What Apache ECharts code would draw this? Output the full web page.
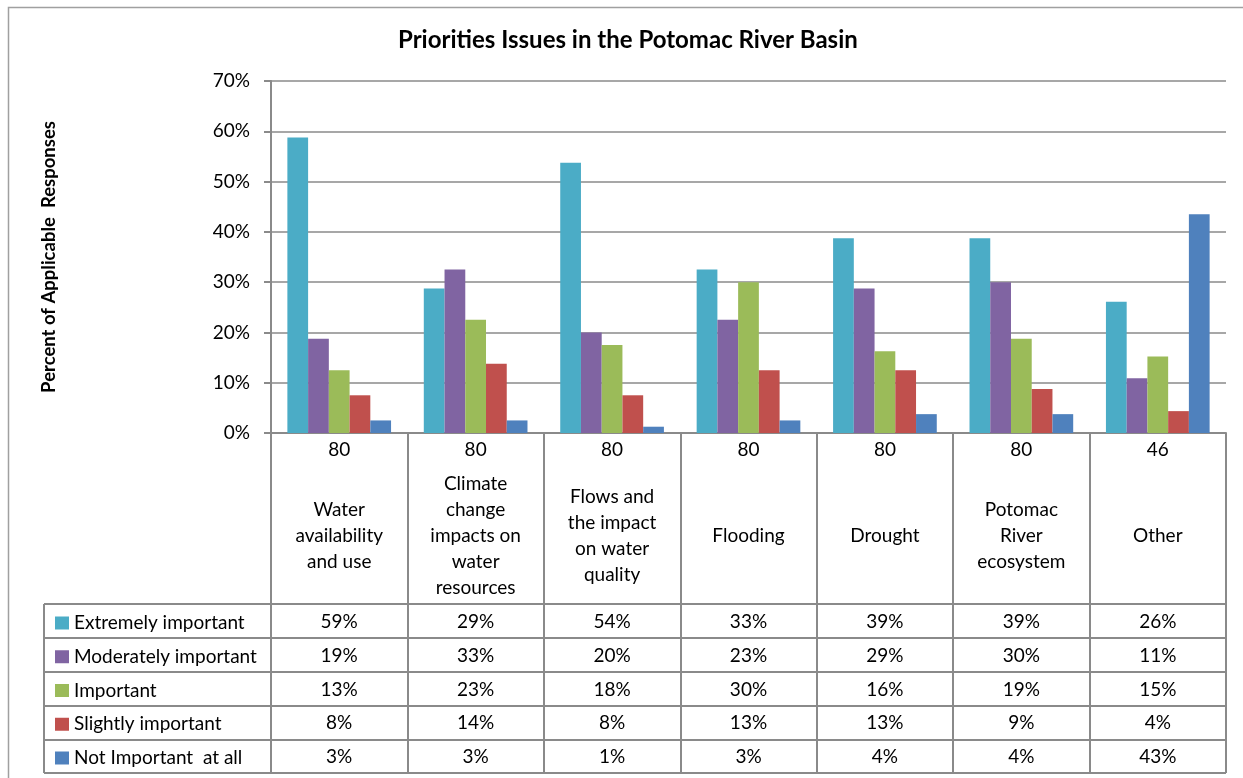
<!DOCTYPE html>
<html>
<head>
<meta charset="utf-8">
<script src="https://cdn.jsdelivr.net/npm/echarts@6/dist/echarts.min.js"></script>
<style>html,body{margin:0;padding:0;background:#fff}#chart{width:1243px;height:778px}</style>
</head>
<body>
<div id="chart"></div>
<script>
const categories = ["Water\navailability\nand use", "Climate\nchange\nimpacts on\nwater\nresources", "Flows and\nthe impact\non water\nquality", "Flooding", "Drought", "Potomac\nRiver\necosystem", "Other"];
const counts = [80, 80, 80, 80, 80, 80, 46];
const seriesNames = ["Extremely important", "Moderately important", "Important", "Slightly important", "Not Important  at all"];
const extremely = [58.75, 28.75, 53.75, 32.5, 38.75, 38.75, 26.09];
const moderately = [18.75, 32.5, 20.0, 22.5, 28.75, 30.0, 10.87];
const important = [12.5, 22.5, 17.5, 30.0, 16.25, 18.75, 15.22];
const slightly = [7.5, 13.75, 7.5, 12.5, 12.5, 8.75, 4.35];
const notImportant = [2.5, 2.5, 1.25, 2.5, 3.75, 3.75, 43.48];
const yTicks = [0, 10, 20, 30, 40, 50, 60, 70];

const values = [extremely, moderately, important, slightly, notImportant];
const colors = ["#4BACC6", "#8064A2", "#9BBB59", "#C0504D", "#4F81BD"];
const FONT = "Lato";
const LINE = "#8a8a8a";
const TFS = 19;

const chart = echarts.init(document.getElementById('chart'));
const axisBase = { gridIndex: 0, type: 'category', position: 'bottom',
  axisLine: { show: false }, axisTick: { show: false } };
const rowCenters = [621, 655, 689, 722, 756];
const zeroY = 433;

const xAxes = [
  { type: 'category', data: categories, position: 'bottom',
    axisLine: { show: true, lineStyle: { color: LINE, width: 2 } },
    axisTick: { show: true, length: 340, lineStyle: { color: LINE, width: 2 } },
    axisLabel: { interval: 0, margin: 536 - zeroY, verticalAlign: 'middle', lineHeight: 26,
      fontFamily: FONT, fontSize: TFS, color: '#000' } },
  Object.assign({}, axisBase, { data: counts.map(String),
    axisLabel: { interval: 0, margin: 450 - zeroY, verticalAlign: 'middle', fontFamily: FONT, fontSize: TFS, color: '#000' } })
];
values.forEach((arr, i) => {
  xAxes.push(Object.assign({}, axisBase, { data: arr.map(v => Math.round(v) + '%'),
    axisLabel: { interval: 0, margin: rowCenters[i] + 1 - zeroY, verticalAlign: 'middle', fontFamily: FONT, fontSize: TFS, color: '#000' } }));
});

const hLines = [604, 638, 672, 706, 740, 773].map(y => ({
  type: 'line', shape: { x1: 44, y1: y, x2: 1226, y2: y }, style: { stroke: LINE, lineWidth: 2 } }));

chart.setOption({
  animation: false,
  title: { text: 'Priorities Issues in the Potomac River Basin', left: 393, top: 23,
    textStyle: { fontFamily: FONT, fontSize: 24, fontWeight: 'bold', color: '#000' } },
  grid: { left: 271, right: 17, top: 81, bottom: 778 - zeroY },
  legend: { orient: 'vertical', left: 50, top: 608, itemGap: 13.75, itemWidth: 14, itemHeight: 13,
    icon: 'rect', data: seriesNames,
    textStyle: { fontFamily: FONT, fontSize: TFS, color: '#000', lineHeight: 20 } },
  xAxis: xAxes,
  yAxis: { type: 'value', min: 0, max: 70, interval: 10,
    name: 'Percent of Applicable  Responses', nameLocation: 'middle', nameGap: 212, nameRotate: 90,
    nameTextStyle: { fontFamily: FONT, fontSize: 18.5, fontWeight: 'bold', color: '#000' },
    axisLine: { show: true, lineStyle: { color: LINE, width: 2 } },
    axisTick: { show: true, length: 7, lineStyle: { color: LINE, width: 2 } },
    splitLine: { lineStyle: { color: LINE, width: 1.5 } },
    axisLabel: { margin: 21, fontFamily: FONT, fontSize: 19, color: '#000',
      formatter: v => yTicks.indexOf(v) >= 0 ? v + '%' : '' } },
  series: values.map((arr, i) => ({
    name: seriesNames[i], type: 'bar', data: arr, xAxisIndex: 0,
    barGap: '0%', barCategoryGap: '24%', itemStyle: { color: colors[i] } })),
  graphic: hLines.concat([
    { type: 'line', shape: { x1: 44, y1: 604, x2: 44, y2: 773 }, style: { stroke: LINE, lineWidth: 2 } },
    { type: 'rect', shape: { x: 8.5, y: 7.5, width: 1250, height: 800 }, style: { stroke: '#a0a0a0', fill: null, lineWidth: 1.5 } }
  ])
});
</script>
</body>
</html>
